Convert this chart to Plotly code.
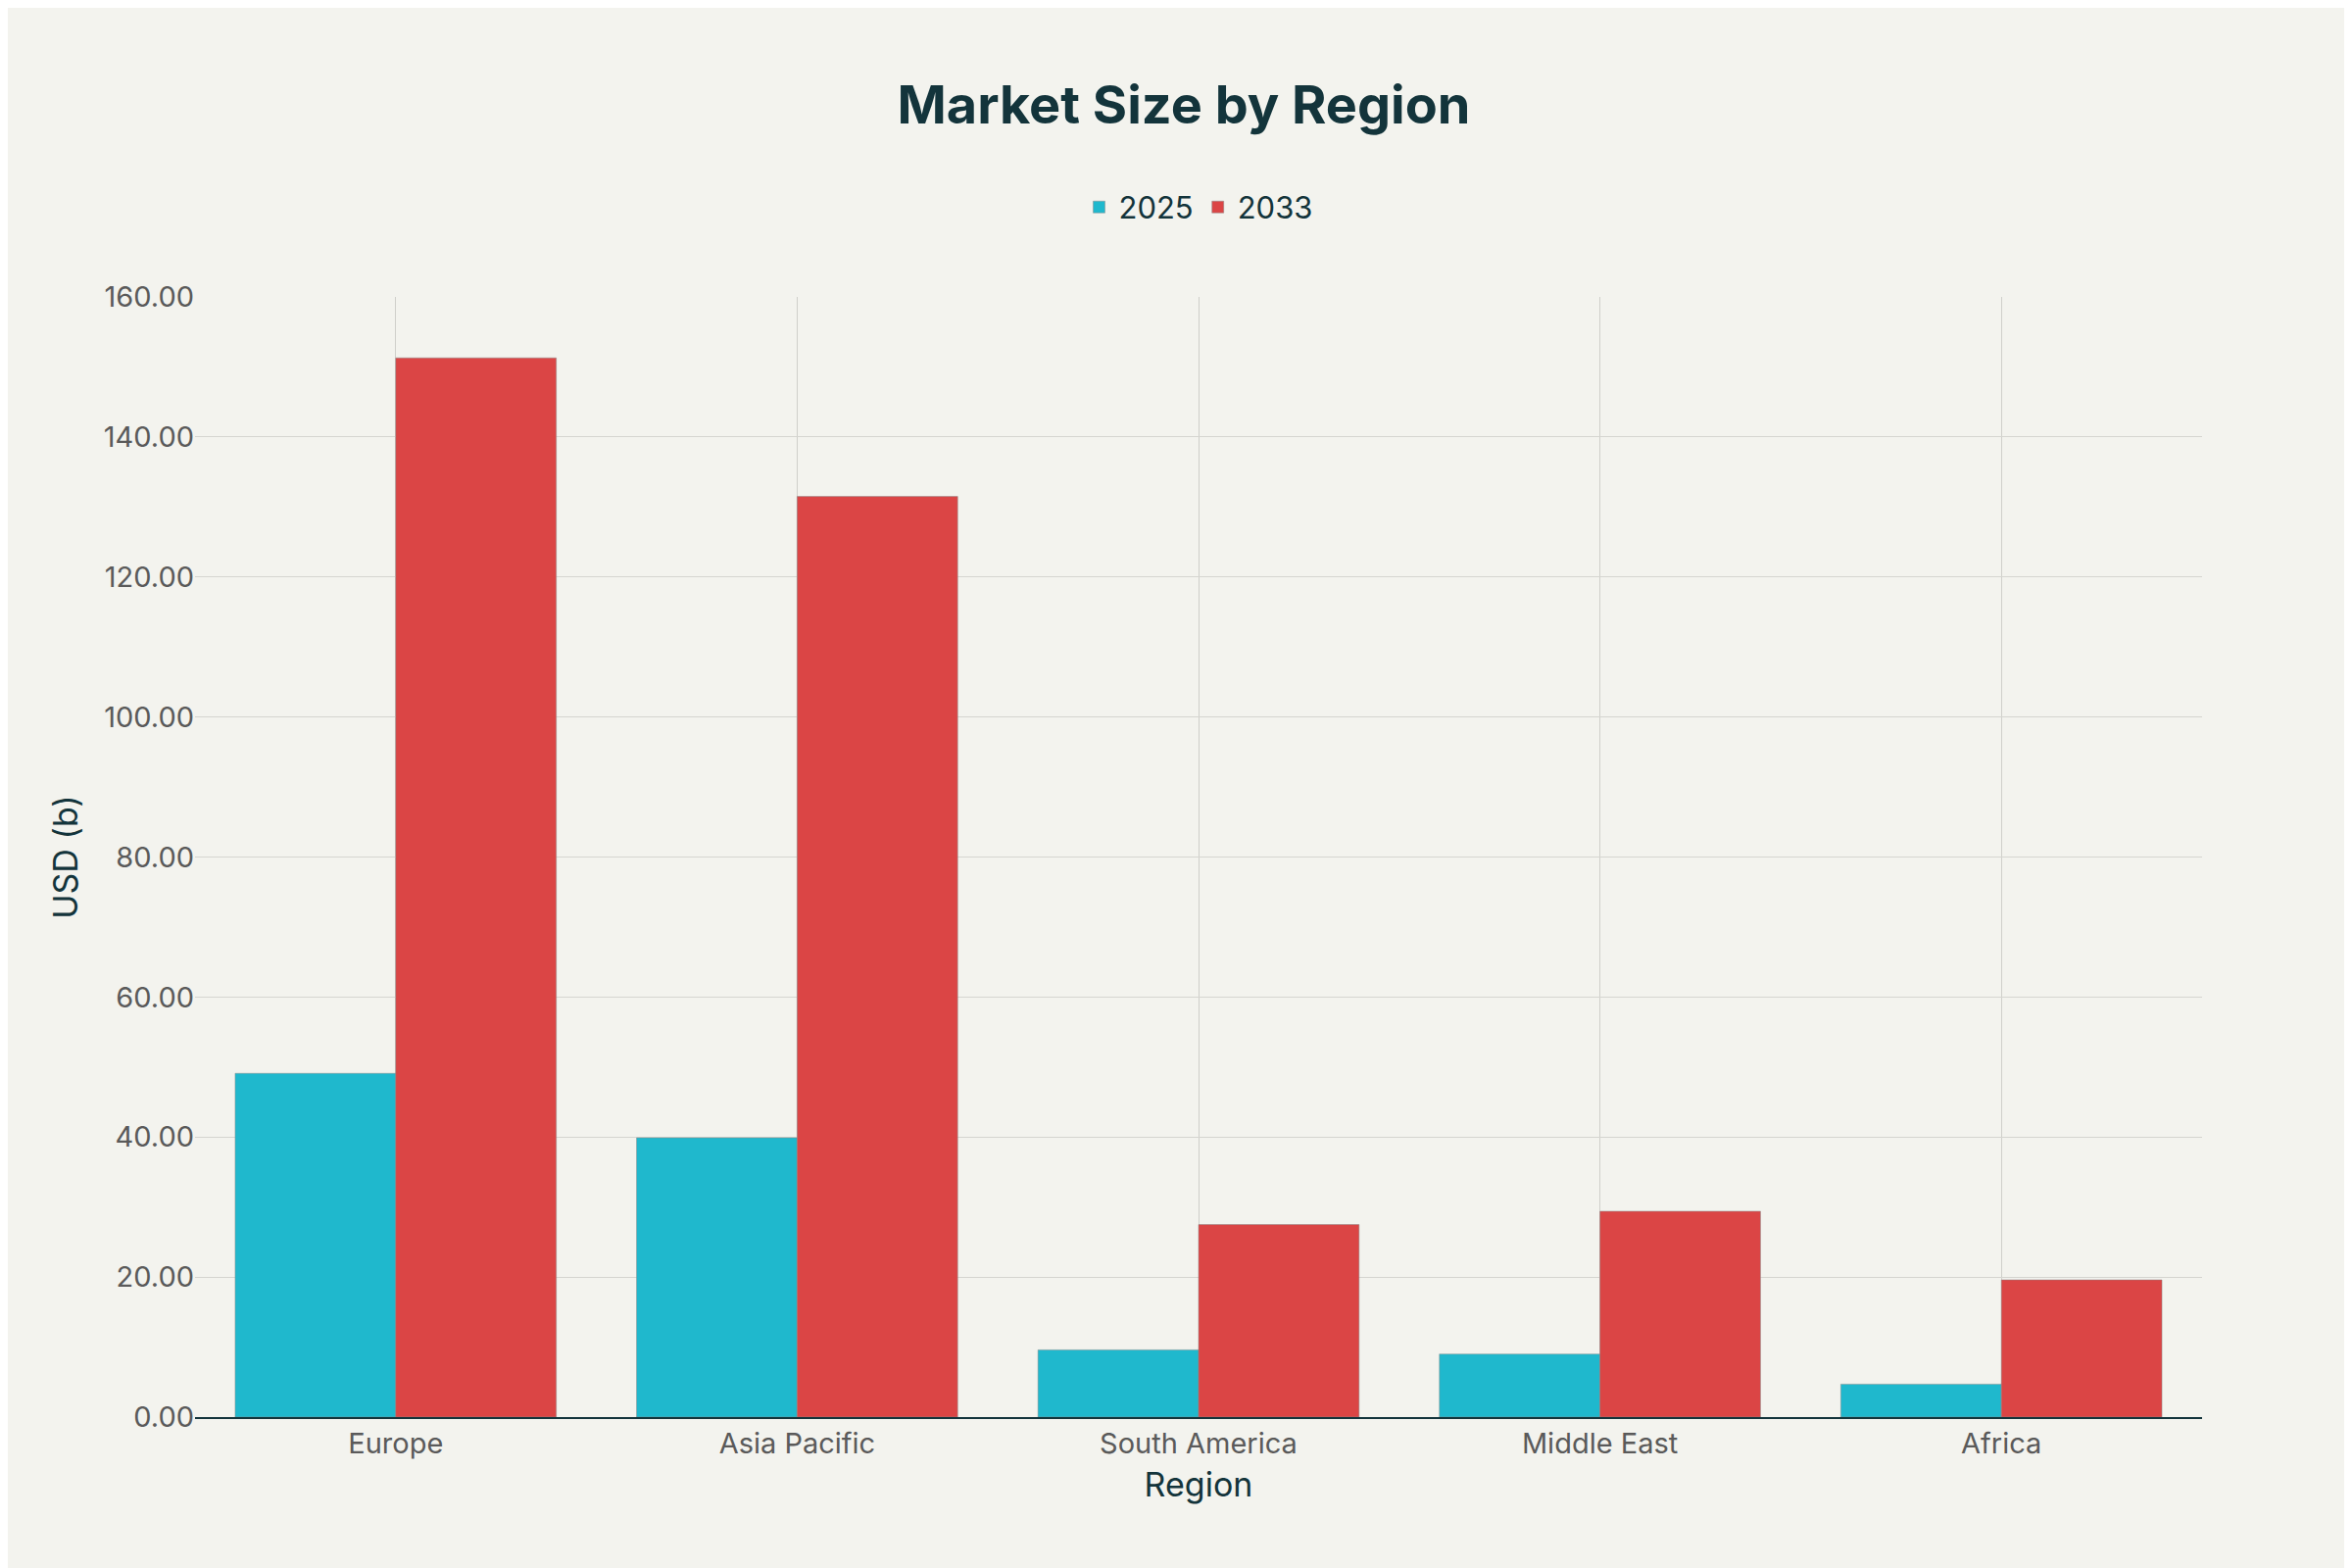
import plotly.graph_objects as go

regions = ["Europe", "Asia Pacific", "South America", "Middle East", "Africa"]
y2025 = [49.1, 39.9, 9.6, 9.0, 4.7]
y2033 = [151.3, 131.5, 27.5, 29.4, 19.6]

fig = go.Figure()
fig.add_bar(x=regions, y=y2025, name="2025", marker=dict(color="#1FB8CD", line=dict(width=0.5, color="#888")))
fig.add_bar(x=regions, y=y2033, name="2033", marker=dict(color="#DB4545", line=dict(width=0.5, color="#888")))

fig.update_layout(
    width=2400, height=1600,
    paper_bgcolor="#F3F3EE", plot_bgcolor="#F3F3EE",
    font=dict(family="Inter, sans-serif", color="#13343B", size=28),
    title=dict(text="<b>Market Size by Region</b>", x=0.5, xanchor="center", y=0.938, yanchor="middle",
               font=dict(size=54, color="#13343B")),
    legend=dict(orientation="h", x=0.5, xanchor="center", y=1.08, yanchor="middle", font=dict(size=31)),
    barmode="group", bargap=0.2, bargroupgap=0,
    margin=dict(l=191, r=161, t=295, b=162),
)
fig.update_xaxes(title=dict(text="Region", font=dict(size=34)), showgrid=True, gridcolor="#CFCFCA",
                 tickfont=dict(size=29, color="#5a5a5a"), showline=True, linecolor="#13343B", linewidth=1.5)
fig.update_yaxes(title=dict(text="USD (b)", font=dict(size=34)), showgrid=True, gridcolor="#D5D5D0",
                 tickformat=".2f", dtick=20, range=[0, 160], tickfont=dict(size=29, color="#5a5a5a"),
                 zeroline=False)
fig.write_html("out.html")
